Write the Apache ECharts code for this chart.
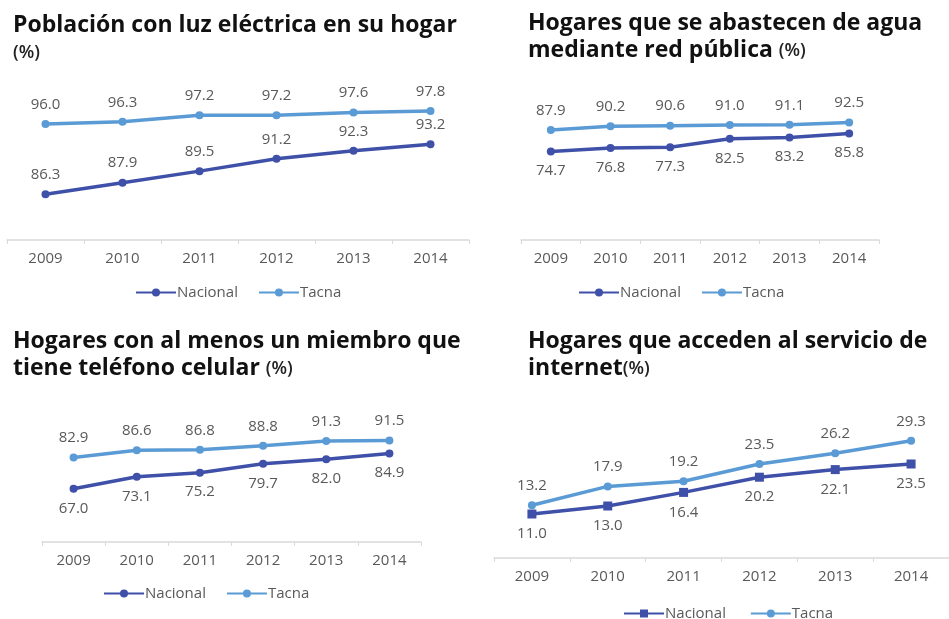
<!DOCTYPE html>
<html>
<head>
<meta charset="utf-8">
<script src="https://cdn.jsdelivr.net/npm/echarts@6/dist/echarts.min.js"></script>
<style>
html,body{margin:0;padding:0;background:#fff;}
#c{width:949px;height:619px;}
</style>
</head>
<body>
<div id="c"></div>
<script>
const years = ['2009','2010','2011','2012','2013','2014'];

const luzNacional = [86.3, 87.9, 89.5, 91.2, 92.3, 93.2];
const luzTacna = [96.0, 96.3, 97.2, 97.2, 97.6, 97.8];

const aguaNacional = [74.7, 76.8, 77.3, 82.5, 83.2, 85.8];
const aguaTacna = [87.9, 90.2, 90.6, 91.0, 91.1, 92.5];

const celNacional = [67.0, 73.1, 75.2, 79.7, 82.0, 84.9];
const celTacna = [82.9, 86.6, 86.8, 88.8, 91.3, 91.5];

const netNacional = [11.0, 13.0, 16.4, 20.2, 22.1, 23.5];
const netTacna = [13.2, 17.9, 19.2, 23.5, 26.2, 29.3];

const titles = [
  ['Población con luz eléctrica en su hogar', '', '(%)'],
  ['Hogares que se abastecen de agua', 'mediante red pública ', '(%)'],
  ['Hogares con al menos un miembro que', 'tiene teléfono celular ', '(%)'],
  ['Hogares que acceden al servicio de', 'internet', '(%)']
];

const C_NAC = '#3f50a8';
const C_TAC = '#5b9bd5';
const GRAY = '#595959';
const FONT = '"Open Sans", sans-serif';

const chart = echarts.init(document.getElementById('c'), null, {renderer: 'canvas'});

const grids = [
  {left: 7, width: 462, top: 95, height: 145},
  {left: 521, width: 358, top: 110.4, height: 129.6},
  {left: 42, width: 379, top: 423.8, height: 118.2},
  {left: 494, width: 462, top: 418, height: 140}
];
const yRanges = [[80, 100], [20, 100], [40, 100], [0, 35]];
const titlePos = [[13, 12], [528, 10], [13, 328], [528, 328]];
const legendPos = [[135, 285], [578, 285], [103, 586], [623, 606]];

const dataSets = [
  [luzNacional, luzTacna, 'top', 'top'],
  [aguaNacional, aguaTacna, 'bottom', 'top'],
  [celNacional, celTacna, 'bottom', 'top'],
  [netNacional, netTacna, 'bottom', 'top']
];

const rich = {
  b: {fontFamily: FONT, fontWeight: 700, fontSize: 23, color: '#111', lineHeight: 27},
  s: {fontFamily: FONT, fontWeight: 600, fontSize: 18, color: '#222', lineHeight: 27}
};

const option = {
  backgroundColor: '#ffffff',
  animation: false,
  title: titles.map((t, i) => ({
    left: titlePos[i][0], top: titlePos[i][1], padding: 0,
    text: '{b|' + t[0] + '}\n' + (t[1] ? '{b|' + t[1] + '}' : '') + '{s|' + t[2] + '}',
    textStyle: {rich: rich}
  })),
  legend: legendPos.map((p, i) => ({
    left: p[0], top: p[1], padding: 0,
    data: i === 3 ? ['Nacional ', 'Tacna '] : ['Nacional', 'Tacna'],
    itemWidth: 40, itemHeight: 10, itemGap: 20,
    textStyle: {color: GRAY, fontSize: 15, fontFamily: FONT, padding: [0, 0, 0, -4]}
  })),
  grid: grids,
  xAxis: grids.map((g, i) => ({
    type: 'category', gridIndex: i, data: years, boundaryGap: true,
    axisLine: {lineStyle: {color: '#d9d9d9', width: 1.5}},
    axisTick: {show: true, length: 4, lineStyle: {color: '#d9d9d9'}},
    axisLabel: {color: GRAY, fontSize: 15, fontFamily: FONT, margin: 11}
  })),
  yAxis: yRanges.map((r, i) => ({
    type: 'value', gridIndex: i, min: r[0], max: r[1], show: false,
    splitLine: {show: false}
  })),
  series: []
};

dataSets.forEach((d, i) => {
  const nacName = i === 3 ? 'Nacional ' : 'Nacional';
  const tacName = i === 3 ? 'Tacna ' : 'Tacna';
  option.series.push({
    name: nacName, type: 'line', xAxisIndex: i, yAxisIndex: i, data: d[0],
    symbol: i === 3 ? 'rect' : 'circle', symbolSize: i === 3 ? 9 : 8,
    lineStyle: {color: C_NAC, width: 3.5}, itemStyle: {color: C_NAC},
    label: {show: true, position: d[2], distance: 8, color: GRAY, fontSize: 15, fontFamily: FONT,
      formatter: p => p.value.toFixed(1)}
  });
  option.series.push({
    name: tacName, type: 'line', xAxisIndex: i, yAxisIndex: i, data: d[1],
    symbol: 'circle', symbolSize: 8,
    lineStyle: {color: C_TAC, width: 3.5}, itemStyle: {color: C_TAC},
    label: {show: true, position: d[3], distance: 8, color: GRAY, fontSize: 15, fontFamily: FONT,
      formatter: p => p.value.toFixed(1)}
  });
});

chart.setOption(option);
</script>
</body>
</html>
